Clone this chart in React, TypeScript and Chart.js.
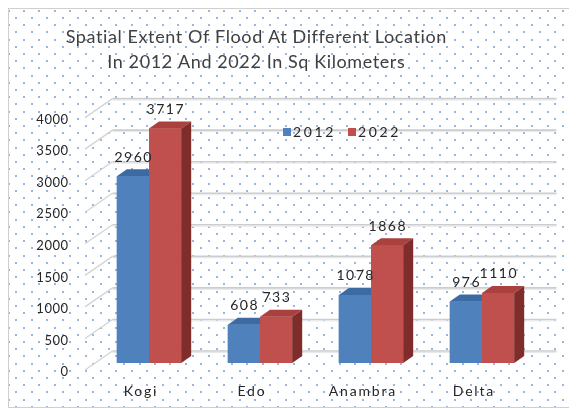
import React, { useEffect, useRef } from "react";
import { Chart, registerables } from "chart.js";

Chart.register(...registerables);

const categories = ["Kogi", "Edo", "Anambra", "Delta"];
const values2012 = [2960, 608, 1078, 976];
const values2022 = [3717, 733, 1868, 1110];
const seriesNames = ["2012", "2022"];
const yTicks = [0, 500, 1000, 1500, 2000, 2500, 3000, 3500, 4000];
const titleLines = [
  "Spatial Extent Of Flood At Different Location",
  "In 2012 And 2022 In Sq Kilometers",
];

const W = 569;
const H = 400;
const FRONT = ["#4f81bd", "#c0504d"];
const TOP = ["#3e6aa3", "#a9423f"];
const SIDE = ["#33598a", "#7e2d2b"];
const DEPTH_X = 10;
const DEPTH_Y = 7;
const WALL_X = 19;
const WALL_Y = 12;
const FONT = "Lato, 'Open Sans', sans-serif";

function drawText(
  ctx: CanvasRenderingContext2D,
  s: string,
  x: number,
  y: number,
  size: number,
  color: string,
  align: CanvasTextAlign,
  spacing: number
) {
  ctx.font = `${size}px ${FONT}`;
  ctx.fillStyle = color;
  ctx.textAlign = align;
  ctx.textBaseline = "middle";
  (ctx as any).letterSpacing = `${spacing}px`;
  const adj = align === "center" ? spacing / 2 : align === "right" ? spacing : 0;
  ctx.fillText(s, x + adj, y);
  (ctx as any).letterSpacing = "0px";
}

const excelPlugin = {
  id: "excel3d",
  beforeDraw(chart: any) {
    const ctx: CanvasRenderingContext2D = chart.ctx;
    const area = chart.chartArea;
    const yScale = chart.scales.y;
    ctx.save();
    ctx.fillStyle = "#ffffff";
    ctx.fillRect(0, 0, W, H);
    // dotted pattern
    ctx.fillStyle = "#98b6e2";
    for (let r = 0; ; r++) {
      const y = 2.7 + r * 7.2;
      if (y > H) break;
      const x0 = r % 2 === 0 ? 16 : 8.3;
      for (let x = x0 - 15.4; x < W; x += 15.4) {
        if (x < 0) continue;
        ctx.fillRect(Math.round(x) - 1, Math.round(y) - 1, 2, 2);
      }
    }
    // border
    ctx.strokeStyle = "#cfcfcf";
    ctx.lineWidth = 1;
    ctx.strokeRect(0.5, 0.5, W - 1, H - 1);
    // gridlines on back wall + side wall diagonals
    for (const v of yTicks) {
      const yf = yScale.getPixelForValue(v);
      const yb = yf - WALL_Y;
      ctx.strokeStyle = "#e9e9e9";
      ctx.lineWidth = 1;
      ctx.beginPath();
      ctx.moveTo(area.left + WALL_X, yb + 1.5);
      ctx.lineTo(area.right + WALL_X, yb + 1.5);
      ctx.stroke();
      ctx.strokeStyle = "#cdcdcd";
      ctx.lineWidth = 1.6;
      ctx.beginPath();
      ctx.moveTo(area.left + WALL_X, yb);
      ctx.lineTo(area.right + WALL_X, yb);
      ctx.stroke();
      ctx.strokeStyle = "#d4d4d4";
      ctx.lineWidth = 1.3;
      ctx.beginPath();
      ctx.moveTo(area.left - 8.5, yf + 7);
      ctx.lineTo(area.left + WALL_X, yb);
      ctx.stroke();
      drawText(ctx, String(v), area.left - 25.5, yf + 9, 13, "#262626", "right", 0.5);
    }
    ctx.restore();
  },
  afterDatasetsDraw(chart: any) {
    const ctx: CanvasRenderingContext2D = chart.ctx;
    const metas = [chart.getDatasetMeta(0), chart.getDatasetMeta(1)];
    ctx.save();
    for (let i = 0; i < categories.length; i++) {
      for (let d = 0; d < 2; d++) {
        const el = metas[d].data[i];
        const { x, y, base, width } = el.getProps(["x", "y", "base", "width"], true);
        const l = x - width / 2;
        const r = x + width / 2;
        ctx.fillStyle = FRONT[d];
        ctx.fillRect(l, y, width, base - y);
        ctx.fillStyle = TOP[d];
        ctx.beginPath();
        ctx.moveTo(l, y);
        ctx.lineTo(l + DEPTH_X, y - DEPTH_Y);
        ctx.lineTo(r + DEPTH_X, y - DEPTH_Y);
        ctx.lineTo(r, y);
        ctx.closePath();
        ctx.fill();
        ctx.fillStyle = SIDE[d];
        ctx.beginPath();
        ctx.moveTo(r, y);
        ctx.lineTo(r + DEPTH_X, y - DEPTH_Y);
        ctx.lineTo(r + DEPTH_X, base - DEPTH_Y);
        ctx.lineTo(r, base);
        ctx.closePath();
        ctx.fill();
      }
    }
    ctx.restore();
  },
  afterDraw(chart: any) {
    const ctx: CanvasRenderingContext2D = chart.ctx;
    const xScale = chart.scales.x;
    ctx.save();
    // title
    drawText(ctx, titleLines[0], 248, 29, 18, "#404040", "center", 0.6);
    drawText(ctx, titleLines[1], 248, 54, 18, "#404040", "center", 0.6);
    // data labels
    const metas = [chart.getDatasetMeta(0), chart.getDatasetMeta(1)];
    const series = [values2012, values2022];
    for (let d = 0; d < 2; d++) {
      metas[d].data.forEach((el: any, i: number) => {
        const { x, y } = el.getProps(["x", "y"], true);
        drawText(ctx, String(series[d][i]), x, y - 19, 14, "#262626", "center", 1.5);
      });
    }
    // category labels
    categories.forEach((c, i) => {
      const x = xScale.getPixelForValue(i);
      drawText(ctx, c, x - 9, 383, 14, "#262626", "center", 1.8);
    });
    // legend
    const legendX = [275, 340];
    for (let d = 0; d < 2; d++) {
      ctx.fillStyle = FRONT[d];
      ctx.fillRect(legendX[d], 120, 8, 8);
      drawText(ctx, seriesNames[d], legendX[d] + 10, 124, 14, "#262626", "left", 2.6);
    }
    ctx.restore();
  },
};

export default function App() {
  const ref = useRef<HTMLCanvasElement>(null);
  useEffect(() => {
    if (!ref.current) return;
    const chart = new Chart(ref.current, {
      type: "bar",
      data: {
        labels: categories,
        datasets: [
          {
            label: seriesNames[0],
            data: values2012,
            backgroundColor: FRONT[0],
            categoryPercentage: 0.58,
            barPercentage: 1,
          },
          {
            label: seriesNames[1],
            data: values2022,
            backgroundColor: FRONT[1],
            categoryPercentage: 0.58,
            barPercentage: 1,
          },
        ],
      },
      options: {
        responsive: false,
        animation: false,
        layout: { padding: { left: 85.5, right: 39.5, top: 102.6, bottom: 45 } },
        scales: {
          x: { display: false },
          y: { display: false, min: 0, max: 4000 },
        },
        plugins: {
          legend: { display: false },
          title: { display: false },
          tooltip: { enabled: false },
        },
      },
      plugins: [excelPlugin],
    });
    return () => chart.destroy();
  }, []);
  return (
    <div style={{ width: W, height: H }}>
      <canvas ref={ref} width={W} height={H} style={{ display: "block" }} />
    </div>
  );
}
